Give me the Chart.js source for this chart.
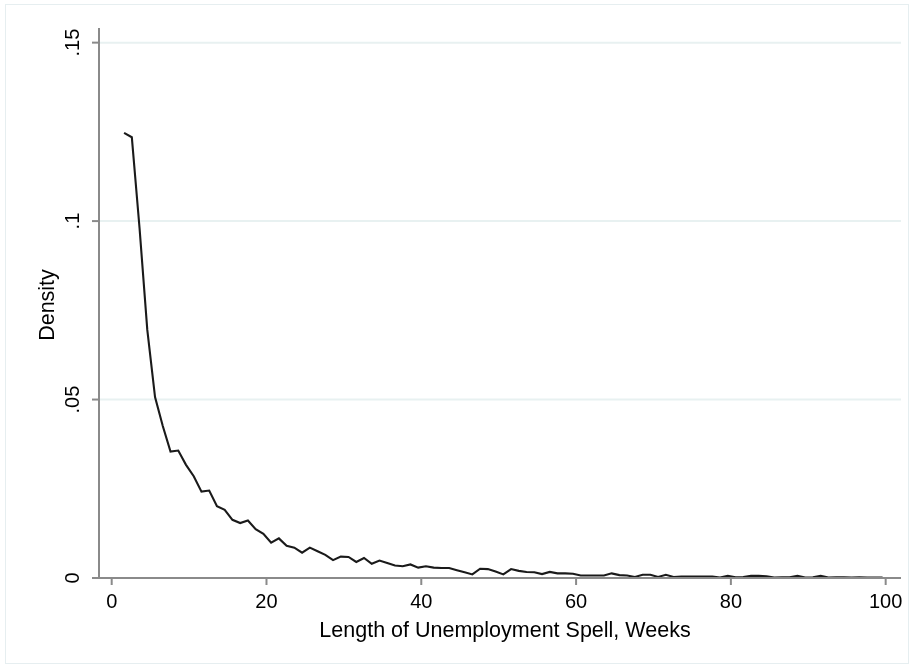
<!DOCTYPE html>
<html>
<head>
<meta charset="utf-8">
<script src="https://cdn.jsdelivr.net/npm/chart.js@4.4.1/dist/chart.umd.min.js"></script>
<style>
  html, body { margin: 0; padding: 0; background: #fff; }
  canvas { display: block; }
</style>
</head>
<body>
<canvas id="densityChart" width="914" height="668"></canvas>
<script>
// spell length (bin positions, weeks)
const weeks = Array.from({ length: 99 }, (_, i) => i + 1.6);

// estimated density per week
const density = [
  0.1247, 0.1235, 0.0980, 0.0695, 0.0507, 0.0426, 0.0354, 0.0357, 0.0317, 0.0285,
  0.0242, 0.0245, 0.0201, 0.0191, 0.0163, 0.0154, 0.0161, 0.0137, 0.0124, 0.0099,
  0.0111, 0.0090, 0.0085, 0.0071, 0.0085, 0.0075, 0.0065, 0.0050, 0.0060, 0.0059,
  0.0045, 0.0056, 0.0040, 0.0049, 0.0042, 0.0035, 0.0033, 0.0038, 0.0029, 0.0033,
  0.0029, 0.0028, 0.0028, 0.0022, 0.0016, 0.0010, 0.0026, 0.0025, 0.0018, 0.0010,
  0.0025, 0.0020, 0.0017, 0.0016, 0.0011, 0.0017, 0.0013, 0.0013, 0.0012, 0.0007,
  0.0007, 0.0007, 0.0007, 0.0013, 0.0008, 0.0007, 0.0003, 0.0009, 0.0009, 0.0003,
  0.0009, 0.0003, 0.0004, 0.0004, 0.0004, 0.0004, 0.0004, 0.0001, 0.0006, 0.0002,
  0.0003, 0.0006, 0.0006, 0.0005, 0.0001, 0.0002, 0.0002, 0.0006, 0.0001, 0.0002,
  0.0006, 0.0001, 0.0002, 0.0002, 0.0001, 0.0002, 0.0001, 0.0001, 0.0001
];

const xTicks = [0, 20, 40, 60, 80, 100];
const yTicks = [0, 0.05, 0.1, 0.15];
const yTickLabels = ['0', '.05', '.1', '.15'];

const xTitle = 'Length of Unemployment Spell, Weeks';
const yTitle = 'Density';

const FONT = '"Liberation Sans", Arial, Helvetica, sans-serif';
const AXIS_COLOR = '#8a8a8a';
const GRID_COLOR = '#e8f1f1';

// stata-like frame, grid and axes drawn with the chart's own scales
const stataAxes = {
  id: 'stataAxes',
  beforeDatasetsDraw(chart) {
    const { ctx, chartArea: a, scales: { x, y } } = chart;
    ctx.save();
    // outer graph region outline
    ctx.strokeStyle = '#e6eef0';
    ctx.lineWidth = 1;
    ctx.strokeRect(5.5, 4.5, 903, 659);
    // horizontal grid lines
    ctx.strokeStyle = GRID_COLOR;
    ctx.lineWidth = 2;
    yTicks.forEach(v => {
      if (v === 0) return;
      const py = y.getPixelForValue(v);
      ctx.beginPath();
      ctx.moveTo(a.left, py);
      ctx.lineTo(a.right, py);
      ctx.stroke();
    });
    ctx.restore();
  },
  afterDraw(chart) {
    const { ctx, chartArea: a, scales: { x, y } } = chart;
    ctx.save();
    ctx.strokeStyle = AXIS_COLOR;
    ctx.lineWidth = 2;
    // axis lines
    ctx.beginPath();
    ctx.moveTo(a.left, a.top);
    ctx.lineTo(a.left, a.bottom + 1);
    ctx.moveTo(a.left - 1, a.bottom);
    ctx.lineTo(a.right, a.bottom);
    ctx.stroke();

    ctx.fillStyle = '#000';
    // x ticks + labels
    ctx.font = '20px ' + FONT;
    ctx.textAlign = 'center';
    ctx.textBaseline = 'alphabetic';
    xTicks.forEach(v => {
      const px = x.getPixelForValue(v);
      ctx.beginPath();
      ctx.moveTo(px, a.bottom);
      ctx.lineTo(px, a.bottom + 7);
      ctx.stroke();
      ctx.fillText(String(v), px, 608);
    });

    // y ticks + rotated labels
    yTicks.forEach((v, i) => {
      const py = y.getPixelForValue(v);
      ctx.beginPath();
      ctx.moveTo(a.left, py);
      ctx.lineTo(a.left - 7, py);
      ctx.stroke();
      ctx.save();
      ctx.translate(79, py);
      ctx.rotate(-Math.PI / 2);
      ctx.fillText(yTickLabels[i], 0, 0);
      ctx.restore();
    });

    // axis titles
    ctx.font = '21.5px ' + FONT;
    ctx.fillText(xTitle, (a.left + a.right) / 2 + 5, 637);
    ctx.save();
    ctx.translate(54, 305);
    ctx.rotate(-Math.PI / 2);
    ctx.fillText(yTitle, 0, 0);
    ctx.restore();
    ctx.restore();
  }
};

new Chart(document.getElementById('densityChart').getContext('2d'), {
  type: 'scatter',
  data: {
    datasets: [{
      data: weeks.map((w, i) => ({ x: w, y: density[i] })),
      showLine: true,
      borderColor: '#1a1a1a',
      borderWidth: 2.1,
      pointRadius: 0,
      tension: 0
    }]
  },
  options: {
    responsive: false,
    animation: false,
    layout: { padding: { left: 99, right: 13, top: 28, bottom: 90 } },
    scales: {
      x: { type: 'linear', display: false, min: -1.64, max: 101.98 },
      y: { type: 'linear', display: false, min: 0, max: 0.1541 }
    },
    plugins: {
      legend: { display: false },
      tooltip: { enabled: false }
    }
  },
  plugins: [stataAxes]
});
</script>
</body>
</html>
